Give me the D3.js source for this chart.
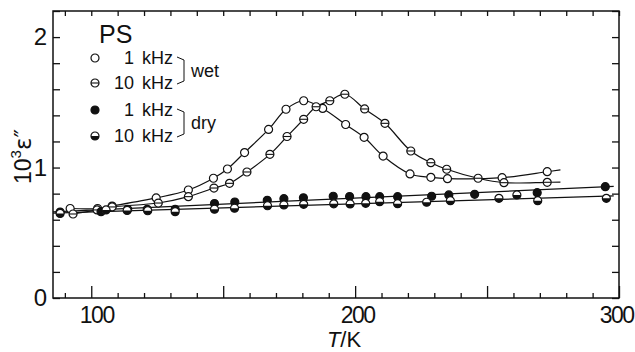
<!DOCTYPE html>
<html>
<head>
<meta charset="utf-8">
<script src="https://cdn.jsdelivr.net/npm/d3@7"></script>
<style>
  html, body { margin: 0; padding: 0; background: #fff; }
  svg { display: block; font-family: "Liberation Sans", "DejaVu Sans", sans-serif; }
</style>
</head>
<body>
<div id="chart"></div>
<script>
// T / K and 10^3 eps''
const wet1kT = [92.0, 102.4, 107.9, 124.6, 136.8, 146.3, 151.6, 158.1, 167.2, 173.8, 180.5, 187.7, 196.4, 203.4, 210.6, 220.8, 228.7, 235.0, 255.7, 272.8]
const wet1kV = [0.686, 0.686, 0.705, 0.767, 0.828, 0.918, 0.989, 1.115, 1.292, 1.447, 1.512, 1.453, 1.330, 1.232, 1.088, 0.951, 0.925, 0.915, 0.922, 0.968]
const wet10kT = [93.1, 102.2, 107.9, 125.4, 136.8, 146.5, 152.4, 159.0, 167.7, 174.2, 180.5, 185.2, 190.4, 196.1, 203.6, 211.3, 221.1, 228.7, 234.7, 246.6, 256.4, 272.8]
const wet10kV = [0.644, 0.675, 0.698, 0.728, 0.777, 0.843, 0.879, 0.966, 1.101, 1.238, 1.370, 1.466, 1.512, 1.562, 1.449, 1.339, 1.127, 1.037, 0.987, 0.918, 0.884, 0.887]
const dry1kT = [88.2, 103.7, 113.8, 121.2, 131.8, 146.7, 154.4, 166.7, 173.0, 180.4, 191.7, 197.9, 204.1, 209.3, 216.1, 229.0, 235.5, 245.3, 269.0, 294.8]
const dry1kV = [0.659, 0.662, 0.680, 0.680, 0.680, 0.724, 0.736, 0.749, 0.761, 0.768, 0.780, 0.778, 0.777, 0.777, 0.777, 0.780, 0.790, 0.795, 0.807, 0.853]
const dry10kT = [88.2, 105.6, 113.6, 121.4, 131.8, 146.7, 154.3, 166.8, 173.0, 180.5, 191.9, 198.1, 204.0, 209.3, 216.1, 227.1, 236.1, 254.5, 261.3, 269.2, 295.2]
const dry10kV = [0.648, 0.675, 0.671, 0.669, 0.662, 0.681, 0.688, 0.707, 0.713, 0.718, 0.722, 0.721, 0.726, 0.738, 0.723, 0.734, 0.746, 0.764, 0.790, 0.746, 0.764]

const xLabels = [100, 200, 300]
const xMajor = [100, 150, 200, 250, 300]
const yLabels = [0, 1, 2]
const legendFreq = ["1", "10", "1", "10"]
const legendGroups = ["wet", "dry"]

const width = 635, height = 352
const m = { left: 53, right: 16, top: 11, bottom: 54 }
const x = d3.scaleLinear([85.5, 300], [m.left, width - m.right])
const y = d3.scaleLinear([0, 2.2], [height - m.bottom, m.top])
const ink = "#111"
const r = 4

const svg = d3.select("#chart").append("svg")
  .attr("width", width).attr("height", height)

// frame
svg.append("rect")
  .attr("x", m.left).attr("y", m.top)
  .attr("width", x.range()[1] - m.left).attr("height", y.range()[0] - m.top)
  .attr("fill", "none").attr("stroke", ink).attr("stroke-width", 1.5)

const minorX = d3.range(90, 301, 10).filter(d => !xMajor.includes(d))
const ticksY = d3.range(0, 2.21, 0.2)

const styleAxis = g => {
  g.select(".domain").remove()
  g.selectAll("line").attr("stroke", ink).attr("stroke-width", 1.3)
}

svg.append("g").attr("transform", `translate(0,${y(0)})`)
  .call(d3.axisBottom(x).tickValues(minorX).tickSize(-5).tickFormat(""))
  .call(styleAxis)
svg.append("g").attr("transform", `translate(0,${y(0)})`)
  .call(d3.axisBottom(x).tickValues(xMajor).tickSize(-12).tickPadding(9)
    .tickFormat(d => xLabels.includes(d) ? d : ""))
  .call(styleAxis)
  .call(g => g.selectAll("text").attr("font-size", 23).attr("letter-spacing", -1.5)
    .attr("fill", ink).attr("font-family", "Liberation Sans")
    .attr("dx", d => d === 100 ? 5 : 2))
  .call(g => g.selectAll("text").filter(d => d === 300)
    .attr("text-anchor", "end").attr("dx", 14))
svg.append("g").attr("transform", `translate(0,${m.top})`)
  .call(d3.axisTop(x).tickValues(d3.range(90, 301, 10)).tickSize(-5).tickFormat(""))
  .call(styleAxis)
svg.append("g").attr("transform", `translate(${m.left},0)`)
  .call(d3.axisLeft(y).tickValues(ticksY).tickSize(-7).tickPadding(6)
    .tickFormat(d => yLabels.some(v => Math.abs(v - d) < 1e-6) ? Math.round(d) : ""))
  .call(styleAxis)
  .call(g => g.selectAll("text").attr("font-size", 24).attr("fill", ink)
    .attr("font-family", "Liberation Sans"))
svg.append("g").attr("transform", `translate(${x.range()[1]},0)`)
  .call(d3.axisRight(y).tickValues(ticksY).tickSize(-7).tickFormat(""))
  .call(styleAxis)

// axis titles
const yt = svg.append("text")
  .attr("transform", `translate(31,${(m.top + y(0)) / 2 + 2}) rotate(-90)`)
  .attr("text-anchor", "middle").attr("font-size", 23).attr("fill", ink)
yt.append("tspan").text("10")
yt.append("tspan").attr("font-size", 15).attr("dy", -10).text("3")
yt.append("tspan").attr("dy", 10).attr("font-family", "DejaVu Sans").text("\u03b5\u2033")

const xt = svg.append("text")
  .attr("x", 344).attr("y", 347)
  .attr("text-anchor", "middle").attr("font-size", 22).attr("fill", ink)
xt.append("tspan").attr("font-style", "italic").text("T")
xt.append("tspan").text("/K")

// data series
const pts = (T, V) => T.map((t, i) => [t, V[i]])
const series = [
  { data: pts(wet1kT, wet1kV), mark: "open", fit: false },
  { data: pts(wet10kT, wet10kV), mark: "bar", fit: false },
  { data: pts(dry1kT, dry1kV), mark: "full", fit: true },
  { data: pts(dry10kT, dry10kV), mark: "half", fit: true }
]

const curve = d3.line().x(d => x(d[0])).y(d => y(d[1])).curve(d3.curveCatmullRom.alpha(0.5))
const straight = d3.line().x(d => x(d[0])).y(d => y(d[1]))

series.forEach(s => {
  let path
  if (s.fit) {
    // least-squares line for the dry runs, drawn over the full range
    const mt = d3.mean(s.data, d => d[0]), mv = d3.mean(s.data, d => d[1])
    const slope = d3.sum(s.data, d => (d[0] - mt) * (d[1] - mv)) / d3.sum(s.data, d => (d[0] - mt) ** 2)
    const f = t => mv + slope * (t - mt)
    path = straight([[x.domain()[0], f(x.domain()[0])], [298, f(298)]])
  } else {
    const n = s.data.length
    const a = s.data[n - 2], b = s.data[n - 1]
    const tail = [b[0] + 5, b[1] + (b[1] - a[1]) / (b[0] - a[0]) * 5]
    path = curve(s.data.concat([tail]))
  }
  svg.append("path").attr("d", path)
    .attr("fill", "none").attr("stroke", ink).attr("stroke-width", 1.2)
})

function drawMarker(g, kind) {
  g.append("circle").attr("r", r)
    .attr("fill", kind === "full" ? ink : "#fff")
    .attr("stroke", ink).attr("stroke-width", 1.2)
  if (kind === "bar") {
    g.append("line").attr("x1", -r).attr("x2", r)
      .attr("stroke", ink).attr("stroke-width", 1.1)
  }
  if (kind === "half") {
    g.append("path").attr("d", `M${-r},0A${r},${r} 0 0,0 ${r},0Z`).attr("fill", ink)
  }
}

series.forEach(s => {
  svg.append("g").selectAll("g").data(s.data).join("g")
    .attr("transform", d => `translate(${x(d[0])},${y(d[1])})`)
    .each(function () { drawMarker(d3.select(this), s.mark) })
})

// legend
svg.append("text").attr("x", 99).attr("y", 43)
  .attr("font-size", 25).attr("fill", ink).text("PS")

const rowsY = [58, 83, 110, 136]
series.forEach((s, i) => {
  const g = svg.append("g").attr("transform", `translate(95,${rowsY[i]})`)
  drawMarker(g, s.mark)
  svg.append("text").attr("x", 134).attr("y", rowsY[i] + 6)
    .attr("text-anchor", "end").attr("font-size", 18).attr("fill", ink)
    .text(legendFreq[i])
  svg.append("text").attr("x", 142).attr("y", rowsY[i] + 6)
    .attr("font-size", 18).attr("fill", ink).text("kHz")
})

legendGroups.forEach((label, k) => {
  const y0 = rowsY[2 * k] - 1, y1 = rowsY[2 * k + 1] + 1
  svg.append("path")
    .attr("d", `M177,${y0}L184,${y0 + 3}L184,${y1 - 3}L177,${y1}`)
    .attr("fill", "none").attr("stroke", ink).attr("stroke-width", 1)
  svg.append("text").attr("x", 191).attr("y", (y0 + y1) / 2 + 6)
    .attr("font-size", 18).attr("fill", ink).text(label)
})
</script>
</body>
</html>
